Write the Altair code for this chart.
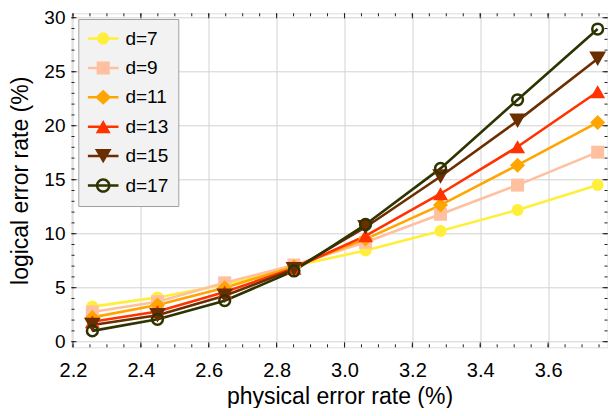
import altair as alt
import pandas as pd

FONT = "Liberation Sans"

# ---- data ----
x_values = [2.257, 2.449, 2.647, 2.851, 3.062, 3.283, 3.510, 3.746]
series_names = ["d=7", "d=9", "d=11", "d=13", "d=15", "d=17"]
d7 = [3.25, 4.10, 5.30, 7.00, 8.45, 10.25, 12.20, 14.50]
d9 = [2.75, 3.70, 5.45, 7.10, 9.20, 11.80, 14.50, 17.55]
d11 = [2.25, 3.40, 5.00, 6.95, 9.50, 12.65, 16.35, 20.30]
d13 = [1.85, 2.80, 4.60, 6.80, 9.80, 13.70, 18.05, 23.15]
d15 = [1.55, 2.45, 4.25, 6.70, 10.60, 15.30, 20.45, 26.20]
d17 = [1.00, 2.07, 3.80, 6.55, 10.85, 16.05, 22.40, 28.95]
series_values = [d7, d9, d11, d13, d15, d17]

x_tick_labels = [2.2, 2.4, 2.6, 2.8, 3.0, 3.2, 3.4, 3.6]
y_tick_labels = [0, 5, 10, 15, 20, 25, 30]
x_minor_ticks = [round(2.2 + 0.05 * i, 2) for i in range(32)]
y_minor_ticks = list(range(0, 31))

# ---- styles ----
colors = ["#FFEF3A", "#FFC0A0", "#FFA500", "#FF3300", "#6B2E00", "#2E3300"]
shapes = ["circle", "square", "diamond", "triangle-up", "triangle-down", "circle"]
sizes = [144, 169, 225, 225, 279, 117]
LINE = "M-1.7,-0.14H1.7V0.14H-1.7Z"
legend_paths = [
    LINE + "M0.667,0A0.667,0.667,0,1,1,-0.667,0A0.667,0.667,0,1,1,0.667,0Z",
    LINE + "M-0.72,-0.72H0.72V0.72H-0.72Z",
    LINE + "M-0.89,0L0,-0.83L0.89,0L0,0.83Z",
    LINE + "M0,-0.74L0.83,0.74L-0.83,0.74Z",
    LINE + "M0,0.8L-0.93,-0.8L0.93,-0.8Z",
    LINE + "M0.817,0A0.817,0.817,0,1,1,-0.817,0A0.817,0.817,0,1,1,0.817,0Z"
           "M0.54,0A0.54,0.54,0,1,0,-0.54,0A0.54,0.54,0,1,0,0.54,0Z",
]

W, H = 536, 334

rows = []
for name, vals in zip(series_names, series_values):
    for xv, yv in zip(x_values, vals):
        rows.append({"x": xv, "y": yv, "series": name})
df = pd.DataFrame(rows)

xscale = alt.Scale(domain=[2.1956, 3.775], nice=False, zero=False)
yscale = alt.Scale(domain=[-0.52, 30.41], nice=False, zero=False)

xaxis = alt.Axis(values=x_tick_labels, format=".1f", grid=True, gridColor="#d2d2d2",
                 gridWidth=1, ticks=False, domain=False, labelFontSize=20, labelFont=FONT,
                 labelColor="black", labelPadding=13, labelFlush=False, labelOverlap=False,
                 title="physical error rate (%)", titleFontSize=23, titleFont=FONT,
                 titleFontWeight="normal", titleColor="black", titleX=W / 2, titleY=49,
                 titleBaseline="middle", titleAlign="center")
yaxis = alt.Axis(values=y_tick_labels, format="d", grid=True, gridColor="#d2d2d2",
                 gridWidth=1, ticks=False, domain=False, labelFontSize=19, labelFont=FONT,
                 labelColor="black", labelPadding=6.5, labelFlush=False, labelOverlap=False,
                 title="logical error rate (%)", titleFontSize=23, titleFont=FONT,
                 titleFontWeight="normal", titleColor="black", titleAngle=270,
                 titleX=-51, titleY=167, titleBaseline="middle", titleAlign="center")

X = alt.X("x:Q", scale=xscale, axis=xaxis)
Y = alt.Y("y:Q", scale=yscale, axis=yaxis)

base = alt.Chart(df)

line_layers = []
point_layers = []
for name, col, shp, sz in zip(series_names, colors, shapes, sizes):
    sel = alt.datum.series == name
    line_layers.append(
        base.mark_line(color=col, strokeWidth=2.6).encode(x=X, y=Y).transform_filter(sel)
    )
    if name == "d=17":
        mk = base.mark_point(shape=shp, filled=False, color=col, size=sz,
                             strokeWidth=2.5, opacity=1)
    else:
        mk = base.mark_point(shape=shp, filled=True, color=col, size=sz, opacity=1)
    point_layers.append(mk.encode(x=X, y=Y).transform_filter(sel))

# layer with no rows (filtered out) whose only job is to carry the legend
legend_layer = base.mark_point(filled=True, opacity=1).encode(
    x=X, y=Y,
    fill=alt.Fill("series:N", scale=alt.Scale(domain=series_names, range=colors),
                  legend=alt.Legend(orient="none", legendX=6.8, legendY=5.7, title=None,
                                    fillColor="#F2F2F2", strokeColor="#A0A0A0", padding=10,
                                    labelFontSize=19, labelFont=FONT, labelColor="black",
                                    symbolSize=324, symbolOffset=5.4, labelOffset=12.7,
                                    rowPadding=9.4, symbolStrokeWidth=0, symbolOpacity=1,
                                    cornerRadius=0)),
    shape=alt.Shape("series:N", scale=alt.Scale(domain=series_names, range=legend_paths)),
).transform_filter("false")

# frame ticks (inward)
xmaj = pd.DataFrame({"v": x_tick_labels})
xmin = pd.DataFrame({"v": x_minor_ticks})
ymaj = pd.DataFrame({"v": y_tick_labels})
ymin = pd.DataFrame({"v": y_minor_ticks})
XV = alt.X("v:Q", scale=xscale, axis=xaxis)
YV = alt.Y("v:Q", scale=yscale, axis=yaxis)
tk = dict(color="#222222", strokeWidth=1)
ticks = [
    alt.Chart(xmaj).mark_rule(**tk).encode(x=XV, y=alt.value(H), y2=alt.value(H - 5)),
    alt.Chart(xmin).mark_rule(**tk).encode(x=XV, y=alt.value(H), y2=alt.value(H - 3)),
    alt.Chart(xmaj).mark_rule(**tk).encode(x=XV, y=alt.value(0), y2=alt.value(5)),
    alt.Chart(xmin).mark_rule(**tk).encode(x=XV, y=alt.value(0), y2=alt.value(3)),
    alt.Chart(ymaj).mark_rule(**tk).encode(y=YV, x=alt.value(0), x2=alt.value(5)),
    alt.Chart(ymin).mark_rule(**tk).encode(y=YV, x=alt.value(0), x2=alt.value(3)),
    alt.Chart(ymaj).mark_rule(**tk).encode(y=YV, x=alt.value(W), x2=alt.value(W - 5)),
    alt.Chart(ymin).mark_rule(**tk).encode(y=YV, x=alt.value(W), x2=alt.value(W - 3)),
]

chart = alt.layer(*line_layers, *point_layers, *ticks, legend_layer).properties(
    width=W, height=H,
    padding={"left": 63.5, "top": 5.3, "right": 0.5, "bottom": 60.7},
    autosize=alt.AutoSizeParams(type="none"),
).configure_view(stroke="#222222", strokeWidth=1).configure(font=FONT)

chart.save("out.html", embed_options={"renderer": "svg", "actions": False})
